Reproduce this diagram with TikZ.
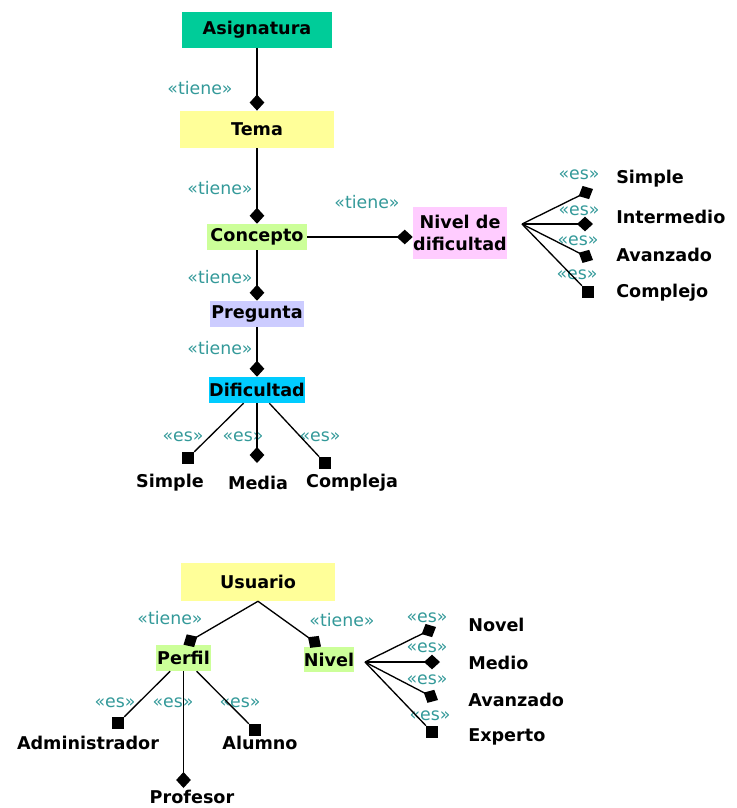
\documentclass[tikz,border=0pt]{standalone}
\usepackage{fontspec}
\setmainfont{DejaVu Sans}
\usepackage{tikz}
\usetikzlibrary{arrows.meta}

\definecolor{asigcol}{RGB}{0,204,153}
\definecolor{yelcol}{RGB}{255,255,153}
\definecolor{grncol}{RGB}{204,255,153}
\definecolor{lilcol}{RGB}{204,204,255}
\definecolor{cyancol}{RGB}{0,204,255}
\definecolor{pinkcol}{RGB}{255,204,255}
\definecolor{stercol}{RGB}{51,153,153}

\begin{document}
\begin{tikzpicture}[ x=0.75pt, y=-0.75pt,
	box/.style={ inner sep=0pt, font=\bfseries\fontsize{13.2}{17}\selectfont },
	leaf/.style={ inner sep=0pt, font=\bfseries\fontsize{13.2}{15}\selectfont },
	ster/.style={ inner sep=0pt, text=stercol, font=\fontsize{13}{15}\selectfont },
	sq/.style={ fill=black, inner sep=0pt, minimum size=9pt },
	has/.style={ line width=1pt, -{Diamond[length=12pt,width=11pt]} },
	es/.style={ line width=1pt } ]
	\useasboundingbox (0,0) rectangle (737,808);

	% upper tree
	\node [ box, fill=asigcol, minimum width=113pt, minimum height=27pt ] (1) at (257,29.5) 
		{ Asignatura };
	\node [ box, fill=yelcol, minimum width=115.5pt, minimum height=28pt ] (2) at (257,129.5) 
		{ Tema };
	\node [ box, fill=grncol, minimum width=75pt, minimum height=19.5pt ] (3) at (257,237) 
		{ Concepto };
	\node [ box, fill=lilcol, minimum width=71pt, minimum height=19.5pt ] (4) at (257,314) 
		{ Pregunta };
	\node [ box, fill=cyancol, minimum width=70.5pt, minimum height=19.5pt ] (5) at (257,390) 
		{ Dificultad };
	\node [ box, fill=pinkcol, minimum width=70.5pt, minimum height=39pt, align=center ] (6) at (460,233) 
		{ Nivel de\\dificultad };

	\node [ ster ] (t1) at (200,88) { «tiene» };
	\node [ ster ] (t2) at (220,188) { «tiene» };
	\node [ ster ] (t3) at (367,202) { «tiene» };
	\node [ ster ] (t4) at (220,277) { «tiene» };
	\node [ ster ] (t5) at (220,348) { «tiene» };

	\draw [ has ] (1) to (2);
	\draw [ has ] (2) to (3);
	\draw [ has ] (3) to (4);
	\draw [ has ] (4) to (5);
	\draw [ has ] (3.east) to (6.west |- 3.east);

	% kinds of Dificultad
	\node [ sq ] (m10) at (188,458) {};
	\coordinate (m11) at (257,463);
	\node [ sq ] (m12) at (325,463) {};
	\node [ leaf ] (10) at (170,483) { Simple };
	\node [ leaf ] (11) at (258,483) { Media };
	\node [ leaf ] (12) at (352,483) { Compleja };
	\node [ ster ] at (183,437) { «es» };
	\node [ ster ] at (243,437) { «es» };
	\node [ ster ] at (320,437) { «es» };
	\draw [ es ] (5) to (m10);
	\draw [ has ] (5) to (m11);
	\draw [ es ] (5) to (m12);

	% kinds of Nivel de dificultad
	\coordinate (f1) at (522,224);
	\coordinate (m20) at (593,189);
	\coordinate (m21) at (593,224);
	\coordinate (m22) at (593,260);
	\node [ sq ] (m23) at (588,292) {};
	\node [ leaf, anchor=west ] (20) at (616,179) { Simple };
	\node [ leaf, anchor=west ] (21) at (616,217) { Intermedio };
	\node [ leaf, anchor=west ] (22) at (616,255) { Avanzado };
	\node [ leaf, anchor=west ] (23) at (616,293) { Complejo };
	\node [ ster ] at (579,175) { «es» };
	\node [ ster ] at (579,211) { «es» };
	\node [ ster ] at (578,241) { «es» };
	\node [ ster ] at (577,275) { «es» };
	\draw [ has ] (f1) to (m20);
	\draw [ has ] (f1) to (m21);
	\draw [ has ] (f1) to (m22);
	\draw [ es ] (f1) to (m23);

	% lower tree
	\node [ box, fill=yelcol, minimum width=115.5pt, minimum height=28.5pt ] (7) at (258,582) 
		{ Usuario };
	\node [ box, fill=grncol, minimum width=41pt, minimum height=19.5pt ] (8) at (183.5,658) 
		{ Perfil };
	\node [ box, fill=grncol, minimum width=36pt, minimum height=19pt ] (9) at (329,659.5) 
		{ Nivel };
	\node [ ster ] (t6) at (170,618) { «tiene» };
	\node [ ster ] (t7) at (342,620) { «tiene» };
	\draw [ has ] (7.south) to (8.north);
	\draw [ has ] (7.south) to ([xshift=-6pt]9.north);

	% kinds of Perfil
	\node [ sq ] (m30) at (118,723) {};
	\coordinate (m31) at (183.5,788);
	\node [ sq ] (m32) at (255,730) {};
	\node [ leaf ] (30) at (88,743) { Administrador };
	\node [ leaf ] (31) at (192,797) { Profesor };
	\node [ leaf ] (32) at (260,743) { Alumno };
	\node [ ster ] at (115,703) { «es» };
	\node [ ster ] at (173,703) { «es» };
	\node [ ster ] at (240,703) { «es» };
	\draw [ es ] (8) to (m30);
	\draw [ has ] (8) to (m31);
	\draw [ es ] (8) to (m32);

	% kinds of Nivel
	\coordinate (f2) at (365,662);
	\coordinate (m40) at (436,627);
	\coordinate (m41) at (440,662);
	\coordinate (m42) at (438,700);
	\node [ sq ] (m43) at (432,732) {};
	\node [ leaf, anchor=west ] (40) at (468,625) { Novel };
	\node [ leaf, anchor=west ] (41) at (468,663) { Medio };
	\node [ leaf, anchor=west ] (42) at (468,700) { Avanzado };
	\node [ leaf, anchor=west ] (43) at (468,737) { Experto };
	\node [ ster ] at (427,618) { «es» };
	\node [ ster ] at (427,648) { «es» };
	\node [ ster ] at (427,680) { «es» };
	\node [ ster ] at (430,716) { «es» };
	\draw [ has ] (f2) to (m40);
	\draw [ has ] (f2) to (m41);
	\draw [ has ] (f2) to (m42);
	\draw [ es ] (f2) to (m43);
\end{tikzpicture}
\end{document}
